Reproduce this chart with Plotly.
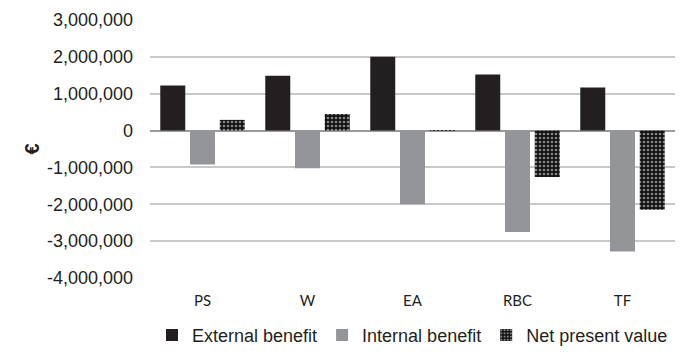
import plotly.graph_objects as go

# Project options and their benefit components (EUR)
categories = ["PS", "W", "EA", "RBC", "TF"]
external_benefit = [1220000, 1490000, 2000000, 1520000, 1170000]
internal_benefit = [-920000, -1020000, -2000000, -2750000, -3280000]
net_present_value = [290000, 450000, 10000, -1260000, -2150000]

y_ticks = [3000000, 2000000, 1000000, 0, -1000000, -2000000, -3000000, -4000000]
y_tick_text = [f"{v:,}" for v in y_ticks]

fig = go.Figure()
fig.add_trace(go.Bar(
    x=categories, y=external_benefit, name="External benefit",
    marker=dict(color="#231f20", line=dict(width=0)),
))
fig.add_trace(go.Bar(
    x=categories, y=internal_benefit, name="Internal benefit",
    marker=dict(color="#939598", line=dict(width=0)),
))
fig.add_trace(go.Bar(
    x=categories, y=net_present_value, name="Net present value",
    marker=dict(
        color="#000000", line=dict(width=0),
        pattern=dict(shape=".", fgcolor="#ffffff", bgcolor="#111111",
                     size=4, solidity=0.35, fillmode="overlay"),
    ),
))

fig.update_layout(
    width=686, height=353,
    margin=dict(l=150, r=11, t=20, b=75, autoexpand=False),
    paper_bgcolor="white", plot_bgcolor="white",
    barmode="group", bargap=0.15, bargroupgap=0.16,
    font=dict(family="Liberation Sans, Arial", color="#262626"),
    showlegend=True,
    legend=dict(
        orientation="h", x=0.5, xanchor="center", y=-0.222, yanchor="middle",
        font=dict(family="Liberation Sans, Arial", size=18, color="#231f20"),
        itemwidth=30, traceorder="normal",
    ),
    xaxis=dict(
        showgrid=False, showline=False, ticks="",
        tickfont=dict(family="Lato, Open Sans", size=15, color="#231f20"),
        ticklabelstandoff=12,
    ),
    yaxis=dict(
        range=[-4000000, 3000000], tickvals=y_ticks, ticktext=y_tick_text,
        showgrid=True, gridcolor="#c8c8c8", gridwidth=1.5,
        zeroline=True, zerolinecolor="#9a9a9a", zerolinewidth=2,
        showline=False, ticks="", ticklabelstandoff=16,
        tickfont=dict(family="Liberation Sans, Arial", size=18, color="#231f20"),
        title=dict(text="<b>€</b>", font=dict(size=20, color="#231f20"), standoff=1),
    ),
)

fig.write_html("out.html")
